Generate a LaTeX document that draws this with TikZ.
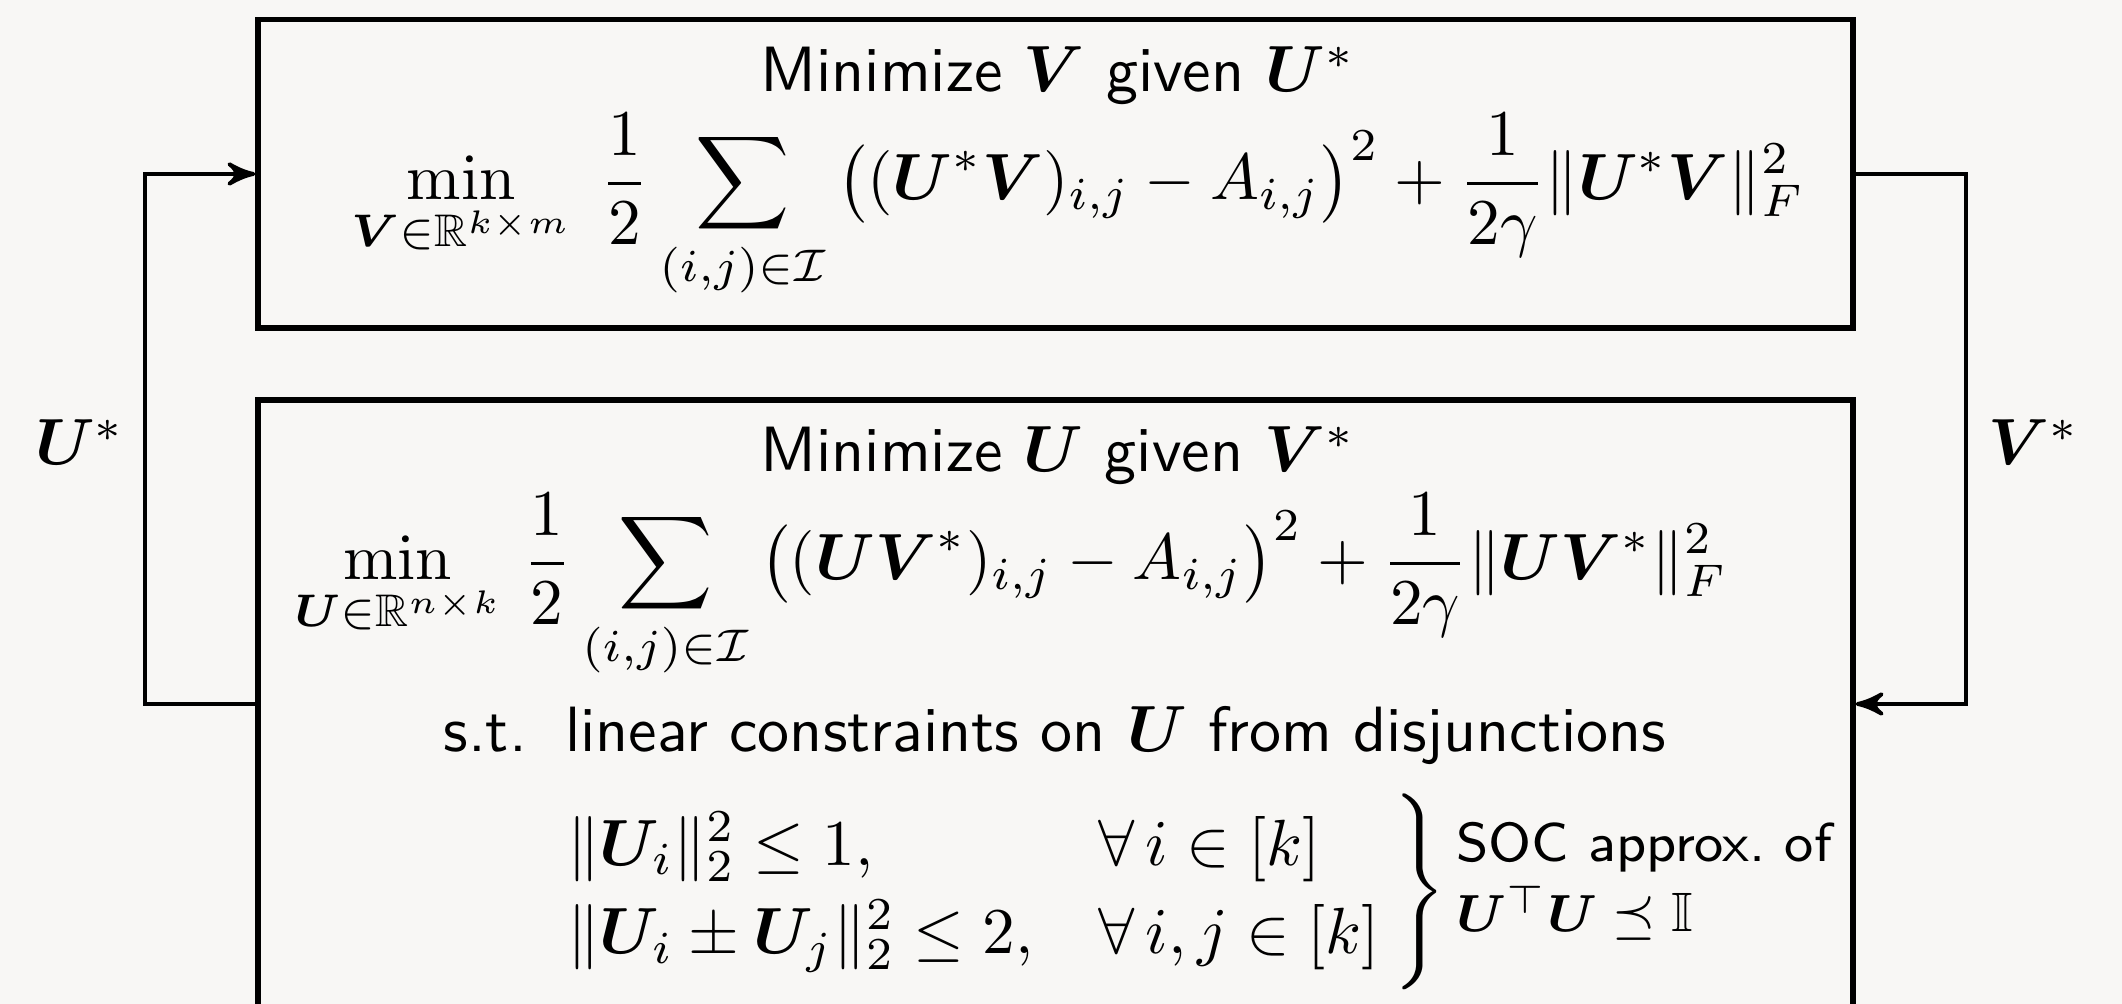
\documentclass[tikz,border=0pt]{standalone}
\usepackage{amsmath,amssymb}
\usepackage{bm}
\usepackage{tikz}
\usetikzlibrary{arrows,positioning}
\definecolor{paper}{RGB}{248,247,245}

\begin{document}
\begin{tikzpicture}[x=0.1531pt, y=-0.1531pt,
    box/.style={draw, line width=0.8pt, inner sep=0pt},
    flow/.style={->, >=stealth', line width=0.6pt},
    ttl/.style={anchor=base, inner sep=0pt, font=\fontsize{9.8}{11.5}\selectfont\sffamily},
    eq/.style={anchor=base, inner sep=0pt}]
    % 背景
    \useasboundingbox (0,0) rectangle (2122,1004);
    \fill[paper] (0,0) rectangle (2122,1004);
    \clip (0,0) rectangle (2122,1004);

    % 上の箱: V の更新
    \node[box, minimum width=244.2pt, minimum height=47.2pt] (vbox) at (1055.5,174) {};
    \node[ttl] (vtitle) at (1058,92) {Minimize $\bm V$ given $\bm U^*$};
    \node[eq] (vobj) at (1078,200) {$\displaystyle \min_{\bm V\in\mathbb R^{k\times m}}\;
        \frac12 \sum_{(i,j)\in\mathcal I}\big((\bm U^*\bm V)_{i,j}-A_{i,j}\big)^2
        +\frac1{2\gamma}\|\bm U^*\bm V\|_F^2$};

    % 下の箱: U の更新
    \node[box, minimum width=244.2pt, minimum height=93.1pt] (ubox) at (1055.5,704) {};
    \node[ttl] (utitle) at (1058,472) {Minimize $\bm U$ given $\bm V^*$};
    \node[eq] (uobj) at (1011,580) {$\displaystyle \min_{\bm U\in\mathbb R^{n\times k}}\,
        \frac12 \sum_{(i,j)\in\mathcal I}\big((\bm U\bm V^*)_{i,j}-A_{i,j}\big)^2
        +\frac1{2\gamma}\|\bm U\bm V^*\|_F^2$};
    \node[ttl] (st) at (1055,752) {s.t.\hspace{0.6em}linear constraints on $\bm U$ from disjunctions};
    \node[eq, anchor=base west] (cons) at (558,908) {$\left.\renewcommand\arraystretch{1.13}
        \begin{array}{@{}l@{\hspace{10pt}}l@{\hspace{2pt}}}
        \|\bm U_i\|_2^2\le 1, & \forall\, i\in[k]\\
        \|\bm U_i\pm\bm U_j\|_2^2\le 2, & \forall\, i,j\in[k]
        \end{array}\right\}$};
    \node[ttl, anchor=base west, font=\fontsize{8.4}{10}\selectfont\sffamily] (soc) at (1455,862) {SOC approx.\ of};
    \node[eq, anchor=base west, font=\fontsize{8.5}{10}\selectfont] (socmat) at (1455,932) {$\bm U^\top\bm U\preceq\mathbb I$};

    % 矢印
    \draw[flow] (ubox.west) -- ++(-110,0) |- (vbox.west);
    \draw[flow] (vbox.east) -- ++(110,0) |- (ubox.east);
    \node[eq] (ustar) at (80,465) {$\bm U^*$};
    \node[eq] (vstar) at (2034,465) {$\bm V^*$};
\end{tikzpicture}
\end{document}
